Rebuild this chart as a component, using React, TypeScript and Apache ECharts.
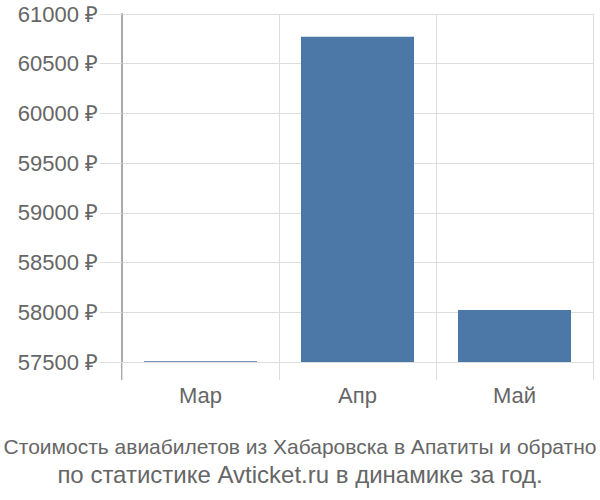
import React, { useEffect, useRef } from "react";
import * as echarts from "echarts";

const categories = ["Мар", "Апр", "Май"];
const prices = [57508, 60772, 58022];
const yMin = 57500;
const yMax = 61000;
const yStep = 500;
const titleLines = [
  "Стоимость авиабилетов из Хабаровска в Апатиты и обратно",
  "по статистике Avticket.ru в динамике за год.",
];

export default function App() {
  const ref = useRef<HTMLDivElement>(null);
  useEffect(() => {
    if (!ref.current) return;
    const chart = echarts.init(ref.current, null, { renderer: "svg" });
    const font = "'Liberation Sans', Arial, sans-serif";
    chart.setOption({
      animation: false,
      title: {
        text: `{a|${titleLines[0]}}\n{b|${titleLines[1]}}`,
        left: "center",
        top: 427,
        textStyle: {
          color: "#666",
          fontSize: 21,
          fontWeight: "normal",
          fontFamily: font,
          lineHeight: 28,
          rich: {
            a: { color: "#666", fontSize: 21, fontFamily: font, lineHeight: 28 },
            b: { color: "#666", fontSize: 24, fontFamily: font, lineHeight: 28 },
          },
        },
      },
      grid: { left: 122, right: 7, top: 14, bottom: 138 },
      xAxis: {
        type: "category",
        data: categories,
        axisLine: { show: false },
        axisTick: { show: true, length: 18, lineStyle: { color: "#ddd" } },
        splitLine: { show: true, lineStyle: { color: "#ddd" } },
        axisLabel: { color: "#666", fontSize: 22, fontFamily: font, margin: 22 },
      },
      yAxis: {
        type: "value",
        min: yMin,
        max: yMax,
        interval: yStep,
        axisLine: { show: true, lineStyle: { color: "#aaa", width: 2 } },
        axisTick: { show: true, length: 22, lineStyle: { color: "#ddd" } },
        splitLine: { show: true, lineStyle: { color: "#ddd" } },
        axisLabel: {
          color: "#666",
          fontSize: 22,
          fontFamily: font,
          margin: 24,
          formatter: (v: number) => `${v} ₽`,
        },
      },
      series: [
        {
          type: "bar",
          data: prices,
          barCategoryGap: "28%",
          itemStyle: { color: "#4c78a8" },
        },
      ],
      graphic: [
        {
          type: "line",
          shape: { x1: 122, y1: 362, x2: 122, y2: 380 },
          style: { stroke: "#aaa", lineWidth: 2 },
        },
      ],
    });
    return () => chart.dispose();
  }, []);
  return (
    <div
      ref={ref}
      style={{ position: "absolute", left: 0, top: 0, width: 600, height: 500 }}
    />
  );
}
